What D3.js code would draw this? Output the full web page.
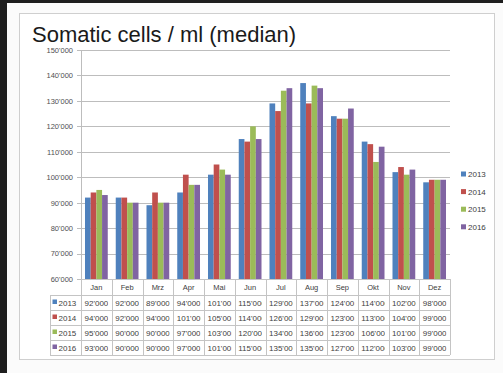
<!DOCTYPE html>
<html><head><meta charset="utf-8">
<script src="https://cdn.jsdelivr.net/npm/d3@7"></script>
<style>html,body{margin:0;padding:0;background:#fafafa;}svg{display:block;}</style>
</head><body>
<svg id="c" width="503" height="373"></svg>
<script>
const months = ["Jan","Feb","Mrz","Apr","Mai","Jun","Jul","Aug","Sep","Okt","Nov","Dez"];
const years = ["2013","2014","2015","2016"];
const v2013 = [92000,92000,89000,94000,101000,115000,129000,137000,124000,114000,102000,98000];
const v2014 = [94000,92000,94000,101000,105000,114000,126000,129000,123000,113000,104000,99000];
const v2015 = [95000,90000,90000,97000,103000,120000,134000,136000,123000,106000,101000,99000];
const v2016 = [93000,90000,90000,97000,101000,115000,135000,135000,127000,112000,103000,99000];
const yTicks = [60000,70000,80000,90000,100000,110000,120000,130000,140000,150000];
const colors = ["#4F81BD","#C0504D","#9BBB59","#8064A2"];
const title = "Somatic cells / ml (median)";

const series = [v2013,v2014,v2015,v2016];
const fmt = n => { const s = String(n); return s.slice(0, s.length-3) + "'" + s.slice(-3); };

const svg = d3.select("#c");
const F = "'Liberation Sans', Arial, sans-serif";
// frame background
svg.append("rect").attr("x",0).attr("y",0).attr("width",503).attr("height",373).attr("fill","#fbfbfb");
svg.append("rect").attr("x",0).attr("y",0).attr("width",7).attr("height",373).attr("fill","#1e1e1e");
svg.append("rect").attr("x",0).attr("y",0).attr("width",503).attr("height",3).attr("fill","#1e1e1e");
svg.append("rect").attr("x",19.5).attr("y",13.5).attr("width",475).attr("height",346)
  .attr("fill","#fff").attr("stroke","#cfcfcf");

svg.append("text").attr("x",32).attr("y",42).attr("font-family",F).attr("font-size",22)
  .attr("fill","#1a1a1a").text(title);

const L = 81, R = 450, T = 50, B = 279;
const y = d3.scaleLinear().domain([60000,150000]).range([B,T]);
const x0 = d3.scaleBand().domain(months).range([L,R]);
const bw = x0.bandwidth();
const x1 = d3.scaleBand().domain(years).range([bw*0.13, bw*0.87]);

// grid
svg.append("g").selectAll("line").data(yTicks).join("line")
  .attr("x1",L-4).attr("x2",R).attr("y1",d=>Math.round(y(d))+0.5).attr("y2",d=>Math.round(y(d))+0.5)
  .attr("stroke","#bdbdbd").attr("stroke-width",1);
svg.append("line").attr("x1",L+0.5).attr("x2",L+0.5).attr("y1",T).attr("y2",B).attr("stroke","#bdbdbd");

// y axis labels
const yAxis = d3.axisLeft(y).tickValues(yTicks).tickFormat(fmt).tickSize(0).tickPadding(8);
const ga = svg.append("g").attr("transform",`translate(${L},0)`).call(yAxis);
ga.select(".domain").remove();
ga.selectAll("text").attr("font-family",F).attr("font-size",7.5).attr("fill","#505050");

// bars
months.forEach((m,i)=>{
  const g = svg.append("g").attr("transform",`translate(${x0(m)},0)`);
  g.selectAll("rect").data(years.map((yr,k)=>({yr,k,v:series[k][i]}))).join("rect")
    .attr("x",d=>x1(d.yr)).attr("width",x1.bandwidth())
    .attr("y",d=>y(d.v)).attr("height",d=>B-y(d.v)).attr("fill",d=>colors[d.k]);
});

// data table
const rowTop = 295, rowH = 15, tL = 50;
const lc = "#c4c4c4";
const tg = svg.append("g");
tg.append("line").attr("x1",L).attr("x2",R).attr("y1",B+0.5).attr("y2",B+0.5).attr("stroke",lc);
for (let r=0;r<=4;r++){
  tg.append("line").attr("x1",tL).attr("x2",R).attr("y1",rowTop+r*rowH+0.5).attr("y2",rowTop+r*rowH+0.5).attr("stroke",lc);
}
months.forEach(m=>{
  tg.append("line").attr("x1",Math.round(x0(m))+0.5).attr("x2",Math.round(x0(m))+0.5).attr("y1",B).attr("y2",rowTop+4*rowH).attr("stroke",lc);
});
tg.append("line").attr("x1",R+0.5).attr("x2",R+0.5).attr("y1",B).attr("y2",rowTop+4*rowH).attr("stroke",lc);
tg.append("line").attr("x1",tL+0.5).attr("x2",tL+0.5).attr("y1",rowTop).attr("y2",rowTop+4*rowH).attr("stroke",lc);

tg.selectAll("text.cat").data(months).join("text").attr("class","cat")
  .attr("x",d=>x0(d)+bw/2).attr("y",B+10.5).attr("text-anchor","middle")
  .attr("font-family",F).attr("font-size",7.5).attr("fill","#404040").text(d=>d);

const defs = svg.append("defs");
months.forEach((m,i)=>{
  defs.append("clipPath").attr("id","cp"+i).append("rect")
    .attr("x",x0(m)+1).attr("y",rowTop).attr("width",bw-4.5).attr("height",4*rowH);
});
years.forEach((yr,k)=>{
  const cy = rowTop + k*rowH + 10.5;
  tg.append("rect").attr("x",52.5).attr("y",cy-6).attr("width",4.5).attr("height",4.5).attr("fill",colors[k]);
  tg.append("text").attr("x",58.5).attr("y",cy).attr("font-family",F).attr("font-size",8).attr("fill","#404040").text(yr);
  months.forEach((m,i)=>{
    tg.append("text").attr("clip-path",`url(#cp${i})`).attr("x",x0(m)+3.5).attr("y",cy)
      .attr("font-family",F).attr("font-size",8).attr("fill","#404040").text(fmt(series[k][i]));
  });
});

// legend
const lg = svg.append("g");
years.forEach((yr,k)=>{
  const cy = 174 + k*17.6;
  lg.append("rect").attr("x",461).attr("y",cy-2.5).attr("width",5).attr("height",5).attr("fill",colors[k]);
  lg.append("text").attr("x",468).attr("y",cy+2.9).attr("font-family",F).attr("font-size",8).attr("fill","#404040").text(yr);
});
</script>
</body></html>
